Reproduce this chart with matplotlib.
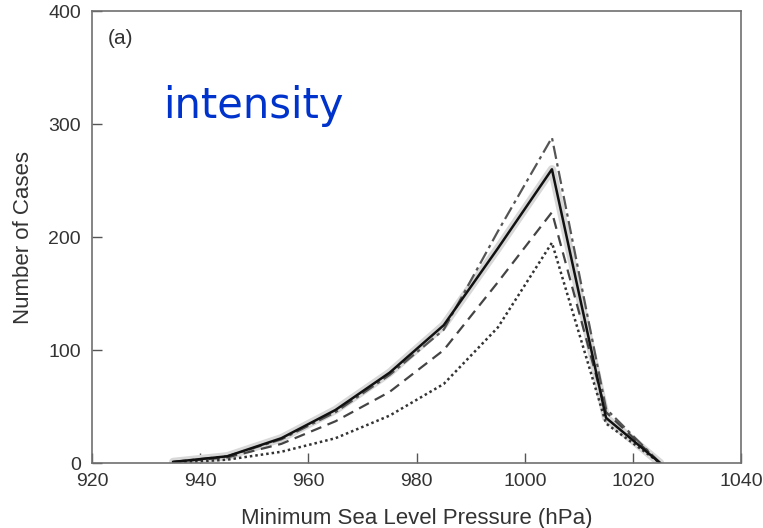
import numpy as np
import matplotlib.pyplot as plt

# bin centres (hPa) and counts per curve
pressure = [935, 945, 955, 965, 975, 985, 995, 1005, 1015, 1025]
solid = [1, 6, 22, 47, 80, 122, 190, 260, 40, 0]
dashdot = [1, 6, 21, 45, 78, 118, 205, 288, 48, 0]
dashed = [1, 5, 17, 37, 63, 100, 160, 222, 45, 0]
dotted = [0, 3, 10, 22, 42, 70, 120, 195, 35, 0]

plt.rcParams['font.family'] = ['Liberation Sans', 'DejaVu Sans']

fig = plt.figure(figsize=(7.63, 5.28), dpi=100)
ax = fig.add_axes([0.1206, 0.123, 0.851, 0.856])

ax.plot(pressure, solid, color='#d8d8d8', linewidth=6, solid_capstyle='round')
ax.plot(pressure, dashdot, color='#555555', linestyle=(0, (6, 2, 1.5, 2)), linewidth=1.6)
ax.plot(pressure, dashed, color='#444444', linestyle=(0, (5, 3)), linewidth=1.6)
ax.plot(pressure, dotted, color='#333333', linestyle=(0, (1, 1.2)), linewidth=1.8)
ax.plot(pressure, solid, color='#111111', linewidth=1.8)

ax.set_xlim(920, 1040)
ax.set_ylim(0, 400)
ax.set_xticks([920, 940, 960, 980, 1000, 1020, 1040])
ax.set_yticks([0, 100, 200, 300, 400])
ax.tick_params(direction='in', length=7, color='#555555', labelcolor='#333333',
               labelsize=14, width=1)
ax.tick_params(axis='y', pad=8)
ax.tick_params(axis='x', pad=7)
for s in ax.spines.values():
    s.set_color('#707070')
    s.set_linewidth(1.2)

ax.set_xlabel('Minimum Sea Level Pressure (hPa)', fontsize=16, color='#333333', labelpad=13)
ax.set_ylabel('Number of Cases', fontsize=16, color='#333333', labelpad=10)

ax.text(0.024, 0.96, '(a)', transform=ax.transAxes, fontsize=15, color='#333333',
        va='top', ha='left')
ax.text(0.11, 0.79, 'intensity', transform=ax.transAxes, fontsize=30, color='#0033cc',
        family='DejaVu Sans', va='center', ha='left')

fig.savefig('out.png', dpi=100)
